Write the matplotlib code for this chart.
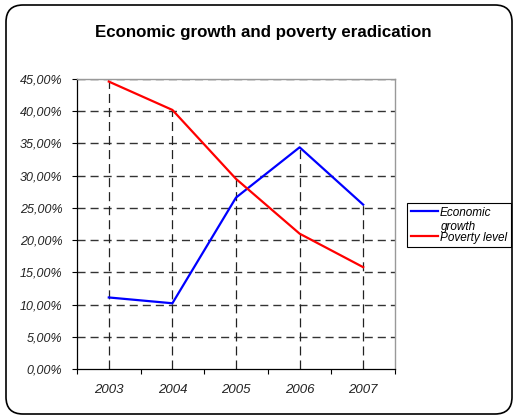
import matplotlib
matplotlib.use("Agg")
import matplotlib.pyplot as plt
from matplotlib.patches import FancyBboxPatch
from matplotlib.ticker import FixedLocator, NullFormatter, FixedFormatter
import numpy as np

plt.rcParams['font.family'] = ['Liberation Sans', 'DejaVu Sans']
plt.rcParams['lines.scale_dashes'] = False

years = ['2003', '2004', '2005', '2006', '2007']
growth = [11.1, 10.2, 26.6, 34.4, 25.5]
poverty = [44.6, 40.2, 29.5, 21.0, 15.8]
y_ticks = [0, 5, 10, 15, 20, 25, 30, 35, 40, 45]

W, H = 514, 416
fig = plt.figure(figsize=(W / 100, H / 100), dpi=100)

# rounded outer frame (inches, so corners stay round)
frame = FancyBboxPatch((0.06, 0.02), 5.06, 4.09,
                       boxstyle="round,pad=0,rounding_size=0.17",
                       transform=fig.dpi_scale_trans, facecolor='none',
                       edgecolor='black', linewidth=1.2, zorder=-1)
fig.patches.append(frame)

ax = fig.add_axes([77 / W, 1 - 369 / H, (395 - 77) / W, (369 - 79) / H])
ax.set_facecolor('none')

x = np.arange(len(years))
dash = (5.8, 3.6)

# horizontal grid
for v in y_ticks[1:]:
    ax.axhline(v, color='#333333', lw=1.0, dashes=dash, zorder=1)

# drop lines from the highest point down
tops = np.maximum(growth, poverty)
for xi, t in zip(x, tops):
    ax.plot([xi, xi], [0, t], color='#222222', lw=0.9, dashes=(6.5, 3.6), zorder=1)

ax.plot(x, growth, color='#0000FF', lw=1.6, label='Economic', zorder=3)
ax.plot(x, poverty, color='#FF0000', lw=1.6, label='Poverty level', zorder=3)

ax.set_xlim(-0.5, len(years) - 0.5)
ax.set_ylim(0, 45)

ax.xaxis.set_major_locator(FixedLocator(np.arange(-0.5, len(years), 1.0)))
ax.xaxis.set_major_formatter(NullFormatter())
ax.xaxis.set_minor_locator(FixedLocator(x))
ax.xaxis.set_minor_formatter(FixedFormatter(years))
ax.tick_params(axis='x', which='major', direction='out', length=3.5, width=0.8)
ax.tick_params(axis='x', which='minor', length=0, pad=11, labelsize=9.5)

ax.set_yticks(y_ticks)
ax.set_yticklabels(['%d,00%%' % v for v in y_ticks])
ax.tick_params(axis='y', direction='out', length=3.5, width=0.8, pad=7, labelsize=9)

for lab in ax.get_xticklabels(minor=True) + ax.get_yticklabels():
    lab.set_fontstyle('italic')
    lab.set_color('#222222')

ax.spines['left'].set_linewidth(0.9)
ax.spines['bottom'].set_linewidth(0.9)
for s in ['top', 'right']:
    ax.spines[s].set_color('#999999')
    ax.spines[s].set_linewidth(1.0)

fig.text(0.512, 1 - 33 / H, 'Economic growth and poverty eradication',
         ha='center', va='center', fontsize=12.2, fontweight='bold')

leg = ax.legend(loc='upper left', bbox_to_anchor=(407 / W, 1 - 203 / H),
                bbox_transform=fig.transFigure, borderaxespad=0,
                prop={'style': 'italic', 'size': 8.5}, handlelength=2.3,
                handletextpad=0.2, labelspacing=1.1, borderpad=0.3,
                fancybox=False, framealpha=1, edgecolor='black')
leg.get_frame().set_linewidth(0.8)
fig.text(441 / W, 1 - 227 / H, 'growth', ha='left', va='center',
         fontsize=8.5, fontstyle='italic', zorder=10)

fig.savefig('out.png', dpi=100)
